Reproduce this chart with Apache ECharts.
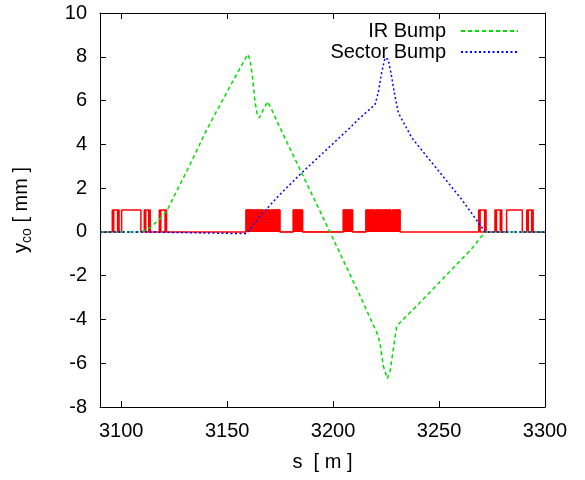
<!DOCTYPE html>
<html>
<head>
<meta charset="utf-8">
<script src="https://cdn.jsdelivr.net/npm/echarts@6/dist/echarts.min.js"></script>
<style>
  html, body { margin: 0; padding: 0; background: #fff; }
  #chart { width: 585px; height: 480px; }
</style>
</head>
<body>
<div id="chart"></div>
<script>
// IR bump orbit (s in m, y in mm)
const irS = [3090, 3109.7, 3113.6, 3117.5, 3121.5, 3132.5, 3140.4, 3150.6, 3159.7, 3160.8, 3162.1, 3163.1, 3164.2, 3165.2, 3167.1, 3169.1, 3171.0, 3174.9, 3198.5, 3213.5, 3220.6, 3222.1, 3223.7, 3225.6, 3226.9, 3228.4, 3230.0, 3232.4, 3241.0, 3265.4, 3271.7, 3300];
const irY = [0, 0, 0.19, 0.52, 0.95, 3.08, 4.68, 6.51, 8.11, 7.88, 6.96, 5.97, 5.37, 5.21, 5.59, 5.95, 5.59, 4.77, 0, -3.08, -4.6, -5.06, -6.13, -6.70, -6.36, -5.37, -4.30, -4.07, -3.23, -0.77, 0, 0];

// sector bump orbit
const secS = [3090, 3110, 3158.9, 3160.8, 3165.5, 3174.9, 3185.2, 3208.0, 3211.9, 3219.8, 3221.3, 3222.9, 3224.5, 3226.0, 3227.6, 3229.2, 3230.8, 3237.1, 3260.7, 3271.7, 3300];
const secY = [0, 0, -0.08, 0.11, 0.72, 1.71, 2.70, 4.76, 5.14, 5.82, 6.36, 7.27, 7.95, 7.88, 7.11, 6.20, 5.44, 4.30, 1.48, 0, 0];

// magnet positions [start, end], drawn as height-1 boxes
const openMagnets = [
  [3095.8, 3099.0], [3096.5, 3098.3],
  [3100.2, 3109.3],
  [3110.9, 3113.7], [3111.6, 3113.0],
  [3118.0, 3121.4], [3118.7, 3120.7],
  [3268.7, 3272.2], [3269.4, 3271.5],
  [3276.4, 3279.6], [3277.1, 3278.9],
  [3281.9, 3289.3],
  [3291.4, 3294.4], [3292.1, 3293.7]
];
const solidMagnets = [
  [3158.9, 3162.3], [3162.7, 3167.1], [3167.9, 3170.2], [3170.8, 3174.9],
  [3181.2, 3185.6], [3204.8, 3209.2], [3215.5, 3219.3], [3219.9, 3222.9],
  [3223.4, 3227.3], [3228.1, 3231.6]
];
const magnetHeight = 1;

const xTicks = [3100, 3150, 3200, 3250, 3300];

const font = 'Liberation Sans';

function zip(xs, ys) {
  return xs.map((x, i) => [x, ys[i]]);
}

function boxes(list, from, to) {
  const pts = [];
  if (from !== undefined) pts.push([from, 0]);
  list.forEach(([a, b]) => {
    pts.push([a, 0], [a, magnetHeight], [b, magnetHeight], [b, 0]);
  });
  if (to !== undefined) pts.push([to, 0]);
  return pts;
}

const chart = echarts.init(document.getElementById('chart'));

const xBase = {
  type: 'value',
  min: 3090,
  max: 3300,
  axisLine: { show: true, onZero: false, lineStyle: { color: '#000', width: 1 } },
  axisTick: { show: true, inside: true, length: 6, customValues: xTicks, lineStyle: { color: '#000' } },
  splitLine: { show: false }
};
const yBase = {
  type: 'value',
  min: -8,
  max: 10,
  interval: 2,
  axisLine: { show: true, onZero: false, lineStyle: { color: '#000', width: 1 } },
  axisTick: { show: true, inside: true, length: 6, lineStyle: { color: '#000' } },
  splitLine: { show: false }
};

chart.setOption({
  animation: false,
  backgroundColor: '#fff',
  textStyle: { fontFamily: font },
  grid: { left: 100, right: 40, top: 13, bottom: 73 },
  legend: {
    orient: 'vertical',
    right: 61,
    top: 16,
    align: 'right',
    itemWidth: 57,
    itemHeight: 10,
    itemGap: 1,
    data: ['IR Bump', 'Sector Bump'],
    itemStyle: { opacity: 0 },
    textStyle: { fontSize: 20, color: '#000', fontFamily: font, padding: [0, 10, 0, 0] }
  },
  xAxis: [
    Object.assign({}, xBase, {
      position: 'bottom',
      name: 's  [ m ]',
      nameLocation: 'middle',
      nameGap: 45,
      nameTextStyle: { fontSize: 20, color: '#000', fontFamily: font },
      axisLabel: {
        customValues: xTicks,
        fontSize: 20,
        color: '#000',
        margin: 14,
        fontFamily: font,
        formatter: (v) => String(v)
      }
    }),
    Object.assign({}, xBase, { position: 'top', axisLabel: { show: false } })
  ],
  yAxis: [
    Object.assign({}, yBase, {
      position: 'left',
      name: '{y|y}{sub|co}{y| [ mm ]}',
      nameLocation: 'middle',
      nameGap: 66,
      nameTextStyle: {
        color: '#000',
        rich: {
          y: { fontSize: 20, fontFamily: font, color: '#000' },
          sub: { fontSize: 14, fontFamily: font, color: '#000', padding: [12, 0, 0, 0] }
        }
      },
      axisLabel: { fontSize: 20, color: '#000', margin: 13, fontFamily: font }
    }),
    Object.assign({}, yBase, { position: 'right', axisLabel: { show: false } })
  ],
  series: [
    {
      name: 'magnets',
      type: 'line',
      data: boxes(openMagnets.slice(0, 7), 3090).concat(boxes(solidMagnets), boxes(openMagnets.slice(7), undefined, 3300)),
      symbol: 'none',
      lineStyle: { color: '#ff0000', width: 1.5 },
      z: 1
    },
    {
      name: 'magnetsSolid',
      type: 'line',
      data: boxes(solidMagnets),
      symbol: 'none',
      lineStyle: { color: '#ff0000', width: 1 },
      areaStyle: { color: '#ff0000', opacity: 1 },
      z: 1
    },
    {
      name: 'IR Bump',
      type: 'line',
      data: zip(irS, irY),
      symbol: 'none',
      itemStyle: { color: '#00e000' },
      lineStyle: { color: '#00e000', width: 1.5, type: [4, 3] },
      z: 2
    },
    {
      name: 'Sector Bump',
      type: 'line',
      data: zip(secS, secY),
      symbol: 'none',
      itemStyle: { color: '#0000ff' },
      lineStyle: { color: '#0000ff', width: 1.5, type: [2, 2.5] },
      z: 3
    }
  ]
});

window.addEventListener('resize', function() {
  chart.resize();
});
</script>
</body>
</html>
